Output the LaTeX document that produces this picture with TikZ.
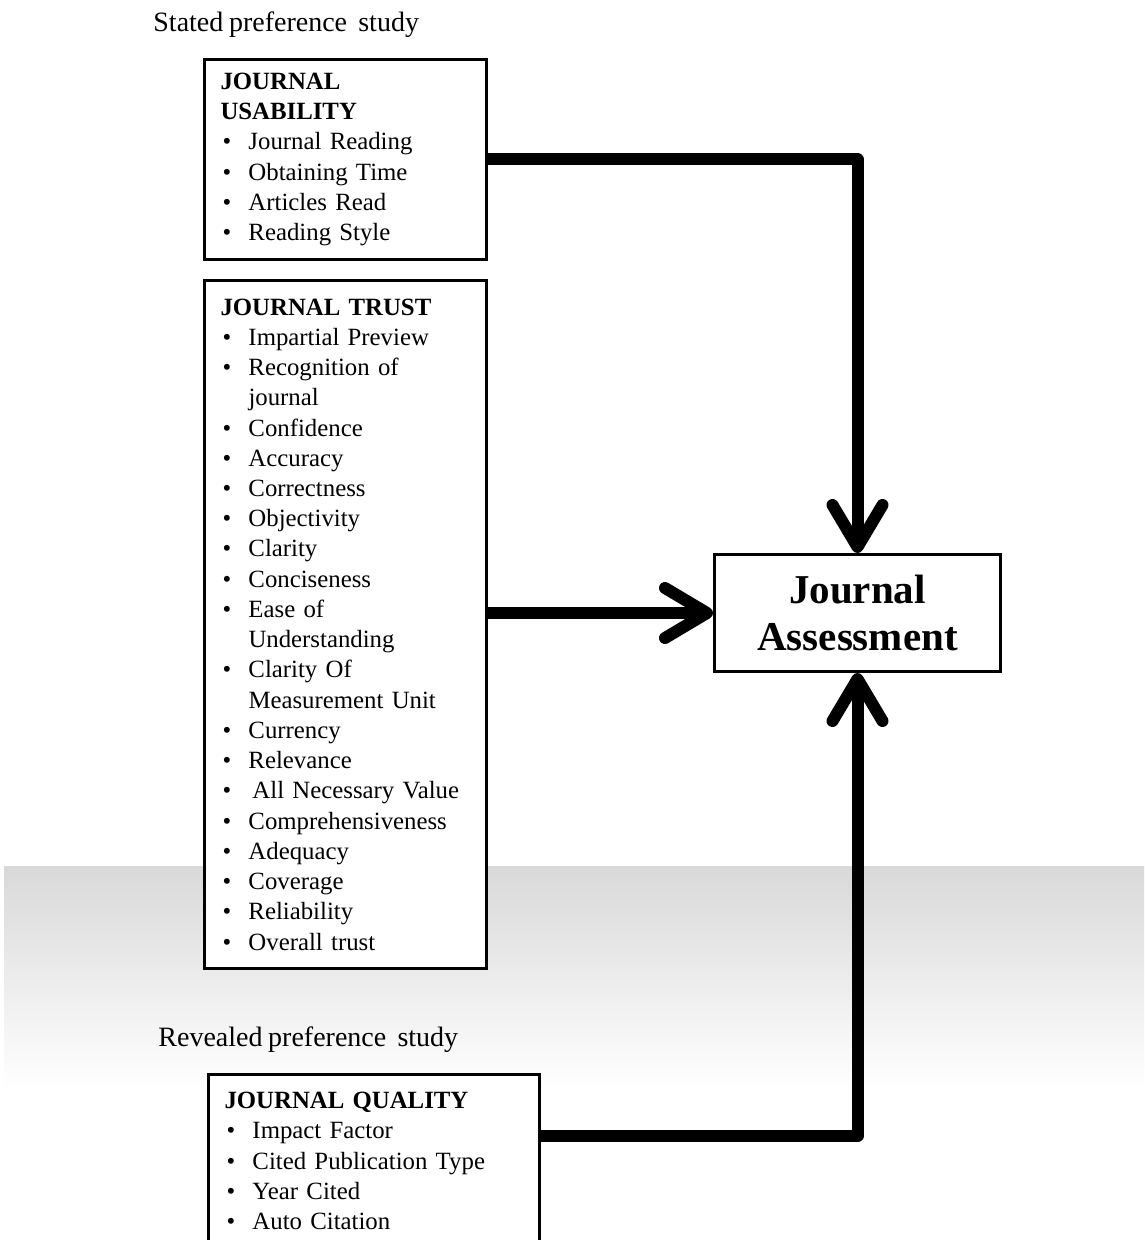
\documentclass[tikz,border=0pt]{standalone}
\usepackage{fontspec}
\setmainfont[WordSpace=0.8]{Liberation Serif}
\usetikzlibrary{positioning}
\usetikzlibrary{arrows.meta}
\usetikzlibrary{calc}
\tikzstyle{listbox}=[draw, line width=1.5pt, fill=white, rectangle, align=left, inner xsep=8pt, inner ysep=0pt, font=\fontsize{12.4}{15.12}\selectfont]
\tikzstyle{mainbox}=[draw, line width=1.5pt, fill=white, rectangle, align=center, minimum width=143pt, minimum height=58.5pt, font=\fontsize{20.5}{23.5}\selectfont\bfseries]
\tikzstyle{flow}=[draw, line width=6pt, line join=round, -{Straight Barb[round,length=21pt,width=25pt]}]
\tikzstyle{study}=[anchor=base west, inner sep=0pt, font=\fontsize{14}{16}\selectfont]
\newcommand{\bul}{\makebox[14pt][l]{\hspace{1pt}\textbullet}}
\newcommand{\nobul}{\hspace*{14pt}}

\begin{document}
\begin{tikzpicture}[x=0.5pt, y=-0.5pt]

  \useasboundingbox (0,0) rectangle (1144,1240);
  \clip (0,0) rectangle (1144,1240);

  % grey band behind the lower part
  \shade[top color=black!15, bottom color=white] (4,866) rectangle (1144,1090);

  \node[study] (stated) at (153,32) {Stated preference~ study};

  \node[listbox, anchor=north west, text width=125pt, minimum height=100pt] (usab) at (203,58)
     {\textbf{JOURNAL}\\ \textbf{USABILITY}\\
      \bul Journal Reading\\ \bul Obtaining Time\\ \bul Articles Read\\ \bul Reading Style};

  \node[listbox, anchor=north west, text width=125pt, minimum height=344pt] (trust) at (203,279)
     {\textbf{JOURNAL TRUST}\\
      \bul Impartial Preview\\ \bul Recognition of\\ \nobul journal\\ \bul Confidence\\
      \bul Accuracy\\ \bul Correctness\\ \bul Objectivity\\ \bul Clarity\\ \bul Conciseness\\
      \bul Ease of\\ \nobul Understanding\\ \bul Clarity Of\\ \nobul Measurement Unit\\
      \bul Currency\\ \bul Relevance\\ \bul\hspace{2pt}All Necessary Value\\
      \bul Comprehensiveness\\ \bul Adequacy\\ \bul Coverage\\ \bul Reliability\\ \bul Overall trust};

  \node[mainbox, anchor=north west] (assess) at (713,553) {Journal\\ Assessment};

  \node[study] (revealed) at (158,1046) {Revealed preference~ study};

  \node[listbox, anchor=north west, text width=149.5pt, minimum height=86.5pt] (qual) at (207,1073)
     {\textbf{JOURNAL QUALITY}\\
      \bul Impact Factor\\ \bul Cited Publication Type\\ \bul Year Cited\\ \bul Auto Citation};

  % flows into the assessment
  \draw[flow] (usab.east) -| (assess.north);
  \draw[flow] (trust.east |- assess.west) -- (assess.west);
  \draw[flow] ([yshift=-31.5pt]qual.north east) -| (assess.south);

\end{tikzpicture}
\end{document}
